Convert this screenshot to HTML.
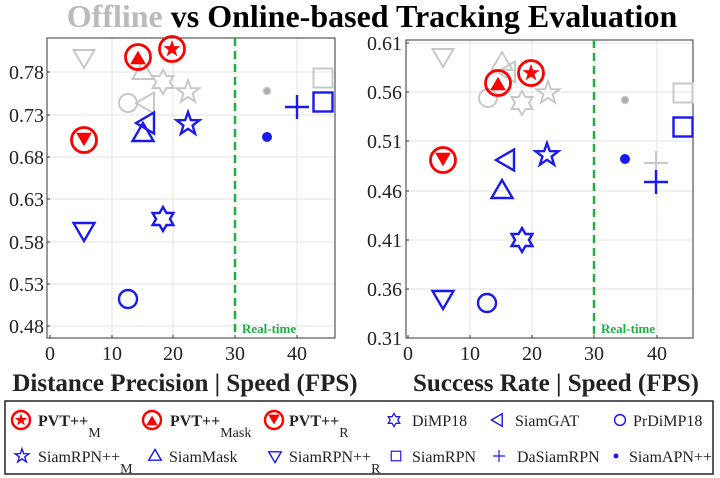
<!DOCTYPE html>
<html><head><meta charset="utf-8"><style>
html,body{margin:0;padding:0;background:#fff}
svg{display:block}
text{font-family:"Liberation Serif",serif}
</style></head><body>
<svg width="720" height="478" viewBox="0 0 720 478" xmlns="http://www.w3.org/2000/svg">
<defs>
<polygon id="tu" points="0,-11 10.5,7 -10.5,7"/>
<polygon id="td" points="0,11 10.5,-7 -10.5,-7"/>
<polygon id="tl" points="-11,0 7,-10.5 7,10.5"/>
<rect id="sq" x="-9.5" y="-9.5" width="19" height="19"/>
<circle id="ci" r="9"/>
<path id="pl" d="M-12,0H12M0,-12V12"/>
<polygon id="s5" points="0,-12 2.8,-3.9 11.4,-3.7 4.6,1.5 7.1,9.7 0,4.8 -7.1,9.7 -4.6,1.5 -11.4,-3.7 -2.8,-3.9"/>
<polygon id="hx" points="0,-12 3.46,-6 10.39,-6 6.93,0 10.39,6 3.46,6 0,12 -3.46,6 -10.39,6 -6.93,0 -10.39,-6 -3.46,-6"/>
</defs>
<text x="372" y="27" text-anchor="middle" font-size="32" font-weight="bold"><tspan fill="#bbb">Offline</tspan> vs Online-based Tracking Evaluation</text>

<!-- LEFT PLOT -->
<g stroke="#e3e3e3" stroke-width="1">
<path d="M112,38V338M173,38V338M235,38V338M297,38V338"/>
<path d="M47,72H335M47,115H335M47,157H335M47,199H335M47,242H335M47,284H335M47,326H335"/>
</g>
<rect x="47" y="38" width="288" height="300" fill="none" stroke="#333" stroke-width="1"/>
<g stroke="#333"><path d="M50,338v-3M112,338v-3M173,338v-3M235,338v-3M297,338v-3M47,72h3M47,115h3M47,157h3M47,199h3M47,242h3M47,284h3M47,326h3"/></g>
<g font-size="20" text-anchor="end" fill="#222">
<text x="44" y="79">0.78</text><text x="44" y="122">0.73</text><text x="44" y="164">0.68</text><text x="44" y="206">0.63</text><text x="44" y="249">0.58</text><text x="44" y="291">0.53</text><text x="44" y="333">0.48</text></g>
<g font-size="20" text-anchor="middle" fill="#222">
<text x="50" y="360">0</text><text x="112" y="360">10</text><text x="173" y="360">20</text><text x="235" y="360">30</text><text x="297" y="360">40</text></g>
<text x="185" y="391" text-anchor="middle" font-size="25" font-weight="bold" fill="#222">Distance Precision | Speed (FPS)</text>
<path d="M235,38V338" stroke="#1db044" stroke-width="2.5" stroke-dasharray="8,5"/>
<text x="242" y="333" font-size="13" font-weight="bold" fill="#1db044">Real-time</text>
<g fill="none" stroke="#c8c8c8" stroke-width="2">
<use href="#td" x="84" y="57"/><use href="#tu" x="143" y="72"/><use href="#hx" x="163" y="82"/><use href="#s5" x="188" y="92"/>
<use href="#ci" x="128" y="103"/><use href="#tl" x="147" y="103"/><use href="#sq" x="323" y="78"/><use href="#pl" x="297" y="107"/>
</g>
<circle cx="267" cy="91" r="3.5" fill="#aaa" stroke="#c8c8c8" stroke-width="1.5"/>
<g fill="none" stroke="#1a1aee" stroke-width="2.4">
<use href="#tl" x="147" y="123"/><use href="#tu" x="143" y="134"/><use href="#s5" x="188" y="124"/><use href="#hx" x="163" y="219"/>
<use href="#td" x="84" y="230"/><use href="#ci" x="128" y="299"/><use href="#sq" x="323" y="102"/><use href="#pl" x="297" y="107"/>
</g>
<circle cx="267" cy="137" r="5" fill="#1a1aee"/>
<g stroke="#f00" stroke-width="2.8" fill="none">
<circle cx="172" cy="49" r="12.5"/><circle cx="138" cy="57" r="12.5"/><circle cx="84" cy="140" r="12.5"/></g>
<g fill="#f00">
<use href="#s5" transform="translate(172,49) scale(0.75)"/><use href="#tu" transform="translate(138,59) scale(0.75)"/><use href="#td" transform="translate(84,138) scale(0.75)"/></g>

<!-- RIGHT PLOT -->
<g stroke="#e3e3e3" stroke-width="1">
<path d="M470,40V338M532,40V338M594,40V338M657,40V338"/>
<path d="M406,43H693M406,92H693M406,141H693M406,191H693M406,240H693M406,289H693"/>
</g>
<rect x="406" y="40" width="287" height="298" fill="none" stroke="#333" stroke-width="1"/>
<g stroke="#333"><path d="M408,338v-3M470,338v-3M532,338v-3M594,338v-3M657,338v-3M406,43h3M406,92h3M406,141h3M406,191h3M406,240h3M406,289h3"/></g>
<g font-size="20" text-anchor="end" fill="#222">
<text x="402" y="50">0.61</text><text x="402" y="99">0.56</text><text x="402" y="148">0.51</text><text x="402" y="198">0.46</text><text x="402" y="247">0.41</text><text x="402" y="296">0.36</text><text x="402" y="345">0.31</text></g>
<g font-size="20" text-anchor="middle" fill="#222">
<text x="408" y="360">0</text><text x="470" y="360">10</text><text x="532" y="360">20</text><text x="594" y="360">30</text><text x="657" y="360">40</text></g>
<text x="556" y="391" text-anchor="middle" font-size="25" font-weight="bold" fill="#222">Success Rate | Speed (FPS)</text>
<path d="M594,40V338" stroke="#1db044" stroke-width="2.5" stroke-dasharray="8,5"/>
<text x="601" y="333" font-size="13" font-weight="bold" fill="#1db044">Real-time</text>
<g fill="none" stroke="#c8c8c8" stroke-width="2">
<use href="#td" x="443" y="56"/><use href="#tu" x="502" y="63"/><use href="#tl" x="508" y="72"/><use href="#ci" x="488" y="98"/>
<use href="#hx" x="522" y="103"/><use href="#s5" x="548" y="93"/><use href="#pl" x="656" y="163"/><use href="#sq" x="683" y="93"/>
</g>
<circle cx="625" cy="100" r="3.5" fill="#aaa" stroke="#c8c8c8" stroke-width="1.5"/>
<g fill="none" stroke="#1a1aee" stroke-width="2.4">
<use href="#tl" x="507" y="160"/><use href="#s5" x="547" y="155"/><use href="#tu" x="502" y="191"/><use href="#hx" x="522" y="240"/>
<use href="#td" x="443" y="298"/><use href="#ci" x="487" y="303"/><use href="#pl" x="656" y="182"/><use href="#sq" x="683" y="127"/>
</g>
<circle cx="625" cy="159" r="5" fill="#1a1aee"/>
<g stroke="#f00" stroke-width="2.8" fill="none">
<circle cx="531" cy="73" r="12.5"/><circle cx="498" cy="83" r="12.5"/><circle cx="443" cy="160" r="12.5"/></g>
<g fill="#f00">
<use href="#s5" transform="translate(531,73) scale(0.75)"/><use href="#tu" transform="translate(498,85) scale(0.75)"/><use href="#td" transform="translate(443,158) scale(0.75)"/></g>

<!-- LEGEND -->
<rect x="5" y="401" width="708" height="73" fill="#fff" stroke="#222" stroke-width="1.5"/>
<g stroke="#f00" stroke-width="2.4" fill="none">
<circle cx="21" cy="420" r="9"/><circle cx="152" cy="420" r="9"/><circle cx="274" cy="420" r="9"/></g>
<g fill="#f00">
<use href="#s5" transform="translate(21,420) scale(0.55)"/><use href="#tu" transform="translate(152,421.5) scale(0.55)"/><use href="#td" transform="translate(274,418.5) scale(0.55)"/></g>
<g fill="none" stroke="#1a1aee" stroke-width="2.4">
<use href="#hx" transform="translate(394,420) scale(0.55)"/><use href="#tl" transform="translate(498,420) scale(0.6)"/><use href="#ci" transform="translate(620,420) scale(0.6)"/>
<use href="#s5" transform="translate(22,456) scale(0.6)"/><use href="#tu" transform="translate(155,456) scale(0.6)"/><use href="#td" transform="translate(275,456) scale(0.6)"/>
<use href="#sq" transform="translate(396,456) scale(0.5)"/><use href="#pl" transform="translate(499,456) scale(0.5)"/>
</g>
<circle cx="616" cy="456" r="2.5" fill="#1a1aee"/>
<g font-size="16" fill="#222">
<text x="38" y="426" font-weight="bold">PVT++<tspan font-size="14" font-weight="normal" dy="11">M</tspan></text>
<text x="170" y="426" font-weight="bold">PVT++<tspan font-size="14" font-weight="normal" dy="11">Mask</tspan></text>
<text x="289" y="426" font-weight="bold">PVT++<tspan font-size="14" font-weight="normal" dy="11">R</tspan></text>
<text x="412" y="426">DiMP18</text>
<text x="515" y="426">SiamGAT</text>
<text x="633" y="426">PrDiMP18</text>
<text x="38" y="462">SiamRPN++<tspan font-size="14" dy="11">M</tspan></text>
<text x="169" y="462">SiamMask</text>
<text x="289" y="462">SiamRPN++<tspan font-size="14" dy="11">R</tspan></text>
<text x="412" y="462">SiamRPN</text>
<text x="517" y="462">DaSiamRPN</text>
<text x="629" y="462">SiamAPN++</text>
</g>
</svg>
</body></html>
